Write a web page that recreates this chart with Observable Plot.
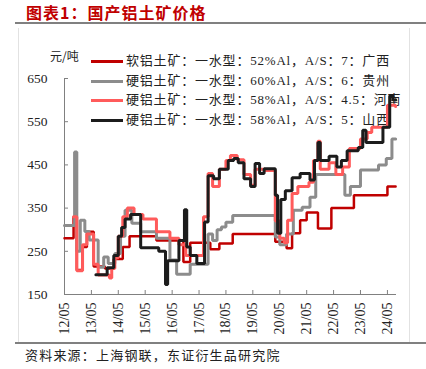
<!DOCTYPE html>
<html><head><meta charset="utf-8">
<script src="https://cdn.jsdelivr.net/npm/d3@7"></script>
<script src="https://cdn.jsdelivr.net/npm/@observablehq/plot@0.6"></script>
<style>
body{margin:0;background:#fff;}
#wrap{position:relative;width:426px;height:369px;overflow:hidden;font-family:"Liberation Serif","Noto Sans CJK SC",serif;color:#222;}
.abs{position:absolute;white-space:nowrap;}
#title{left:26px;top:1px;font-family:"Noto Sans CJK SC";font-weight:bold;font-size:16px;line-height:22px;color:#c00000;letter-spacing:1px;}
#rule1{left:15px;top:22px;width:411px;height:2px;background:#808080;}
#rule2{left:15px;top:342px;width:411px;height:2px;background:#808080;}
#boxL{left:18px;top:28px;width:1px;height:314px;background:#e2e2e2;}
#boxR{left:409px;top:28px;width:1px;height:314px;background:#e2e2e2;}
#source{left:25px;top:346px;font-family:"Noto Sans CJK SC";font-size:13px;line-height:18px;letter-spacing:1.2px;color:#222;}
#unit{left:50px;top:47px;font-family:"Noto Sans CJK SC";font-size:12px;line-height:18px;}
.sw{position:absolute;left:91px;width:32px;height:3px;}
.lt{position:absolute;left:126px;font-family:"Liberation Serif","Noto Sans CJK SC";font-size:13px;line-height:18px;letter-spacing:0.8px;white-space:nowrap;}
#chart{position:absolute;left:0;top:0;z-index:2;}
#legend{position:absolute;left:0;top:0;z-index:1;}
</style></head>
<body>
<div id="wrap">
  <div class="abs" id="title">图表1：国产铝土矿价格</div>
  <div class="abs" id="rule1"></div>
  <div class="abs" id="boxL"></div>
  <div class="abs" id="boxR"></div>
  <div class="abs" id="unit">元/吨</div>
  <div id="legend"></div>
  <div id="chart"></div>
  <div class="abs" id="rule2"></div>
  <div class="abs" id="source">资料来源：上海钢联，东证衍生品研究院</div>
</div>
<script>
// ---- data ----
const seriesNames = [
  "软铝土矿：一水型：52%Al，A/S：7：广西",
  "硬铝土矿：一水型：60%Al，A/S：6：贵州",
  "硬铝土矿：一水型：58%Al，A/S：4.5：河南",
  "硬铝土矿：一水型：58%Al，A/S：5：山西"
];
const seriesColors = ["#c00000", "#8c8c8c", "#ff5b5b", "#1c1c1c"];

const guangxi = [
  ["2012-05-01",280],["2012-09-01",330],["2012-10-15",207],["2013-01-01",260],["2013-03-01",295],
  ["2013-06-01",215],["2013-11-01",210],["2014-03-01",232],["2014-07-01",260],["2014-10-01",285],
  ["2015-10-01",275],["2016-10-01",225],["2017-01-01",270],["2017-10-01",255],["2018-02-01",268],
  ["2018-08-01",290],["2020-03-01",272],["2020-08-01",257],["2020-10-15",292],["2021-02-01",322],
  ["2021-05-01",340],["2021-10-01",303],["2022-04-01",350],["2023-02-01",380],["2024-05-01",400],
  ["2024-08-20",400]
];
const guizhou = [
  ["2012-05-01",310],["2012-09-15",480],["2012-10-15",250],["2012-12-01",322],["2013-02-01",296],
  ["2013-04-01",276],["2013-08-01",213],["2013-10-15",237],["2013-12-15",222],["2014-03-15",245],
  ["2014-06-01",285],["2014-08-01",345],["2014-11-01",315],["2015-03-01",295],["2015-10-01",280],
  ["2016-04-01",230],["2016-07-01",197],["2017-01-01",220],["2017-09-01",290],["2017-11-01",275],
  ["2018-01-01",300],["2018-03-01",306],["2018-05-01",317],["2018-08-01",333],["2020-03-01",283],
  ["2020-05-01",265],["2020-08-01",290],["2020-11-01",345],["2021-03-01",352],["2021-06-15",375],
  ["2021-09-01",428],["2022-10-01",380],["2022-12-15",400],["2023-05-01",438],["2024-01-01",450],
  ["2024-04-15",465],["2024-07-01",510],["2024-08-20",510]
];
const henan = [
  ["2012-09-01",330],["2012-10-15",205],["2013-01-01",265],["2013-03-01",290],["2013-06-01",220],
  ["2013-08-01",195],["2014-01-01",188],["2014-02-01",210],["2014-03-15",235],["2014-05-01",285],
  ["2014-07-01",330],["2014-09-01",350],["2014-12-01",335],["2015-04-01",325],["2015-10-01",295],
  ["2016-04-01",280],["2016-08-01",265],["2016-11-01",240],["2017-07-01",330],["2017-09-01",430],
  ["2017-11-01",400],["2018-02-01",440],["2018-05-01",460],["2018-07-01",472],["2018-10-01",462],
  ["2019-01-01",428],["2019-04-01",403],["2019-06-01",440],["2019-10-01",437],["2020-03-01",320],
  ["2020-05-01",280],["2020-07-01",270],["2020-08-15",322],["2020-10-15",384],["2021-01-01",400],
  ["2021-06-01",410],["2021-08-01",460],["2021-10-01",505],["2021-11-01",440],["2022-03-01",455],
  ["2022-06-01",428],["2022-09-01",445],["2022-12-01",488],["2023-05-01",510],["2023-08-01",525],
  ["2023-10-01",537],["2024-05-01",588],["2024-08-20",585]
];
const shanxi = [
  ["2013-07-01",196],["2013-12-01",212],["2014-03-01",240],["2014-05-01",285],["2014-06-15",305],
  ["2014-08-01",325],["2014-10-15",335],["2015-03-01",258],["2015-11-01",250],["2016-02-01",173],
  ["2016-03-01",228],["2016-08-01",275],["2016-10-15",346],["2016-11-15",260],["2017-01-01",240],
  ["2017-04-01",222],["2017-07-15",318],["2017-09-01",425],["2017-11-15",418],["2018-02-01",440],
  ["2018-06-01",460],["2018-08-15",465],["2018-10-15",455],["2019-01-01",418],["2019-04-01",400],
  ["2019-06-01",453],["2019-08-01",430],["2019-10-01",441],["2020-03-01",380],["2020-04-01",292],
  ["2020-05-15",370],["2020-07-15",390],["2020-10-15",420],["2021-02-01",430],["2021-06-15",415],
  ["2021-08-15",460],["2021-10-01",502],["2021-11-01",460],["2022-03-01",470],["2022-06-15",445],
  ["2022-08-15",460],["2022-11-01",483],["2023-04-01",490],["2023-06-01",530],["2023-07-15",502],
  ["2024-03-01",537],["2024-06-01",610],["2024-07-15",600],["2024-08-20",600]
];
const yTicks = [150, 250, 350, 450, 550, 650];
const xTickDates = ["2012-05-01","2013-05-01","2014-05-01","2015-05-01","2016-05-01","2017-05-01","2018-05-01",
  "2019-05-01","2020-05-01","2021-05-01","2022-05-01","2023-05-01","2024-05-01"];
const xTickLabels = ["12/05","13/05","14/05","15/05","16/05","17/05","18/05","19/05","20/05","21/05","22/05","23/05","24/05"];
const xDomain = ["2012-05-01", "2024-09-01"];

// ---- legend (HTML, under the lines) ----
const legendRows = [61, 81, 100, 120];
const legend = document.getElementById("legend");
seriesNames.forEach((name, i) => {
  const sw = document.createElement("div");
  sw.className = "sw";
  sw.style.top = (legendRows[i] - 1.5) + "px";
  sw.style.background = seriesColors[i];
  legend.appendChild(sw);
  const t = document.createElement("div");
  t.className = "lt";
  t.style.top = (legendRows[i] - 9) + "px";
  t.textContent = name;
  legend.appendChild(t);
});

// ---- chart ----
const allSeries = [guangxi, guizhou, henan, shanxi];
const widths = [2.5, 3, 3, 3];
const toDate = s => new Date(s + "T00:00:00Z");
const tickDates = xTickDates.map(toDate);
const labelOf = new Map(tickDates.map((d, i) => [+d, xTickLabels[i]]));

const chart = Plot.plot({
  width: 426,
  height: 369,
  marginLeft: 64,
  marginRight: 30,
  marginTop: 78,
  marginBottom: 75,
  style: {background: "transparent", fontFamily: "Liberation Serif, serif", fontSize: "13.5px", color: "#222", overflow: "visible"},
  x: {type: "utc", domain: xDomain.map(toDate)},
  y: {domain: [150, 650]},
  marks: [
    Plot.axisY(yTicks, {tickSize: -4, tickPadding: 21, label: null, stroke: "#808080"}),
    Plot.axisX(tickDates, {tickSize: -4, tickPadding: 12, tickRotate: -90, label: null, stroke: "#808080",
      tickFormat: d => labelOf.get(+d), fontSize: 14}),
    Plot.ruleX([toDate(xDomain[0])], {stroke: "#808080"}),
    Plot.ruleY([150], {stroke: "#808080"}),
    ...allSeries.map((s, i) => Plot.line(s, {
      x: d => toDate(d[0]), y: d => d[1], curve: "step-after",
      stroke: seriesColors[i], strokeWidth: widths[i], strokeLinejoin: "miter"
    }))
  ]
});
document.getElementById("chart").appendChild(chart);
</script>
</body></html>
